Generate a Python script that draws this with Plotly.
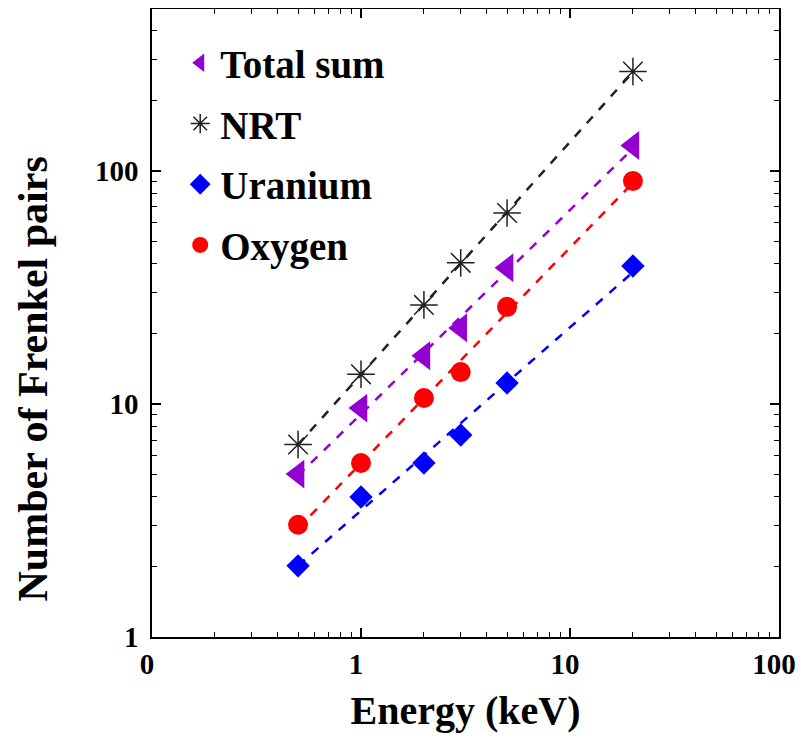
import numpy as np
import plotly.graph_objects as go

energy = [0.5, 1, 2, 3, 5, 20]
total_sum = [5.0, 9.6, 16.1, 21.2, 38.4, 128.5]
nrt = [6.7, 13.4, 26.6, 40.3, 66.0, 267.0]
uranium = [2.02, 3.99, 5.58, 7.36, 12.3, 39.1]
oxygen = [3.03, 5.58, 10.6, 13.7, 26.1, 90.6]

series = [
    ("Total sum", total_sum, "#9400D3", "triangle-left", 25),
    ("NRT", nrt, "#222222", "asterisk-open", 23),
    ("Uranium", uranium, "#0000FF", "diamond", 18),
    ("Oxygen", oxygen, "#FF0000", "circle", 20),
]

x_tickvals = [0.1, 1, 10, 100]
x_ticktext = ["0", "1", "10", "100"]
y_tickvals = [1, 10, 100]
y_ticktext = ["1", "10", "100"]

FONT = "Liberation Serif"

fig = go.Figure()

# fitted power-law dashed lines (from data)
for name, vals, color, sym, size in series:
    lx = np.log10(energy)
    ly = np.log10(vals)
    k, b = np.polyfit(lx, ly, 1)
    xs = [energy[0], energy[-1]]
    ys = [10 ** (k * np.log10(v) + b) for v in xs]
    fig.add_trace(go.Scatter(x=xs, y=ys, mode="lines", showlegend=False,
                             line=dict(color=color, width=2.5, dash="dash"),
                             hoverinfo="skip"))

for i, (name, vals, color, sym, size) in enumerate(series):
    if sym == "asterisk-open":
        marker = dict(symbol=sym, size=size, color=color,
                      line=dict(color=color, width=1.5))
    else:
        marker = dict(symbol=sym, size=size, color=color, line=dict(width=0))
    fig.add_trace(go.Scatter(x=energy, y=vals, mode="markers", name=name,
                             legendgroup=f"g{i}", marker=marker))

minor_x = [m * 10 ** e for e in (-1, 0, 1) for m in range(2, 10)]
minor_y = [m * 10 ** e for e in (0, 1, 2) for m in range(2, 10)]

axis_common = dict(
    showgrid=False, zeroline=False, showline=True, linecolor="black",
    linewidth=1.5, mirror="allticks", ticks="inside", ticklen=9,
    tickwidth=1.5, tickcolor="black", ticklabeloverflow="allow",
    automargin=False,
    tickfont=dict(family=FONT, size=29, color="black", weight="bold"),
)

fig.update_xaxes(type="log", range=[-1, 2], tickmode="array",
                 tickvals=x_tickvals, ticktext=x_ticktext, ticklabelshift=-5,
                 minor=dict(tickmode="array", tickvals=minor_x, ticks="inside",
                            ticklen=5, tickwidth=1.2, tickcolor="black", showgrid=False),
                 title=dict(text="Energy (keV)", standoff=22,
                            font=dict(family=FONT, size=40, color="black", weight="bold")),
                 **axis_common)
fig.update_yaxes(type="log", range=[0, np.log10(495)], tickmode="array",
                 tickvals=y_tickvals, ticktext=y_ticktext, ticklabelstandoff=6,
                 minor=dict(tickmode="array", tickvals=minor_y, ticks="inside",
                            ticklen=5, tickwidth=1.2, tickcolor="black", showgrid=False),
                 **axis_common)

fig.add_annotation(text="Number of Frenkel pairs", xref="paper", yref="paper",
                   x=-144 / 627, y=0.41, textangle=-90, showarrow=False,
                   xanchor="left", yanchor="middle",
                   font=dict(family=FONT, size=42, color="black", weight="bold"))

fig.update_layout(
    width=795, height=725,
    margin=dict(l=144, r=24, t=1, b=96),
    paper_bgcolor="white", plot_bgcolor="white",
    showlegend=True,
    legend=dict(x=0.045, y=0.965, xanchor="left", yanchor="top",
                bgcolor="rgba(0,0,0,0)", tracegroupgap=7,
                font=dict(family=FONT, size=39, color="black", weight="bold")),
)

fig.write_html("out.html")
